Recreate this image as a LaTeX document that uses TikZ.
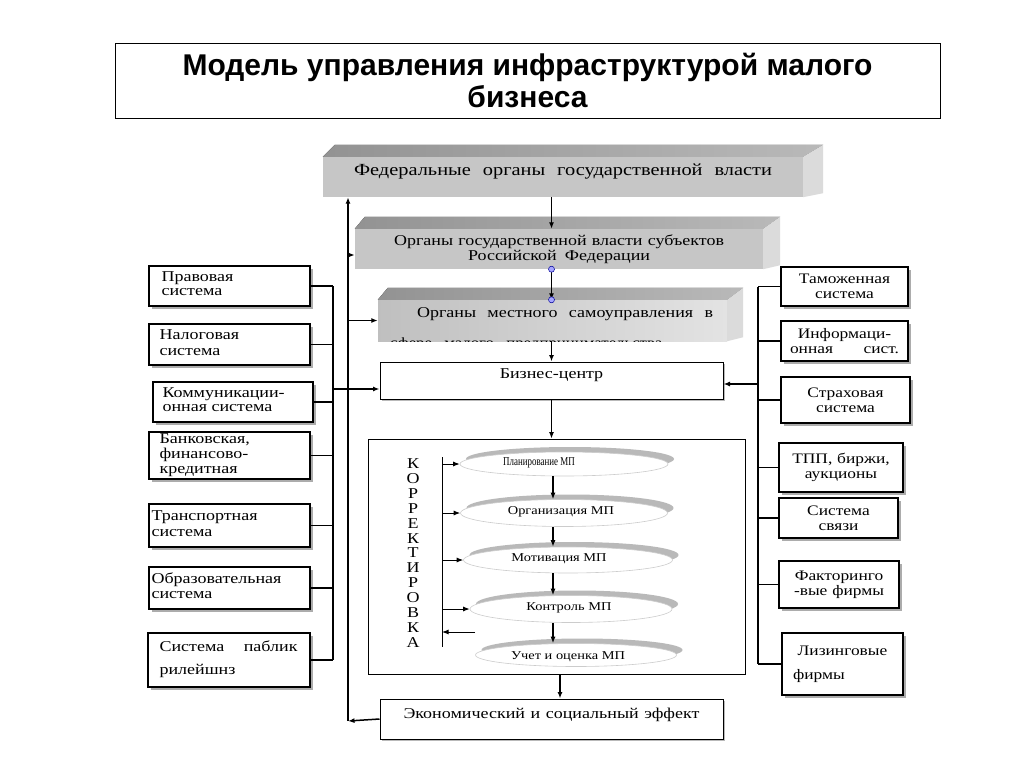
\documentclass[tikz,border=0pt]{standalone}
\usepackage{fontspec}
\usepackage{graphicx}
\setmainfont{Liberation Serif}[FakeStretch=1.2]
\newfontfamily\titlefont{Liberation Sans}
\newfontfamily\plainserif{Liberation Serif}
\newcommand{\lefttxt}[2][16]{\scalebox{1.2}[1]{\plainserif\fontsize{15}{#1}\selectfont\begin{tabular}{@{}l@{}}#2\end{tabular}}}
\usetikzlibrary{arrows.meta,shadows,calc,shapes.geometric}
\tikzset{
  arr/.style={-{Latex[length=6.5pt,width=5pt]}, line width=1.5pt},
  sbox/.style={draw, line width=1.3pt, fill=white, drop shadow={shadow xshift=3pt, shadow yshift=-3pt, fill=gray!65, opacity=1}, inner ysep=0pt, font=\fontsize{14.5}{15}\selectfont},
  lbox/.style={sbox, inner sep=0pt},
  ltext/.style={anchor=west, align=left, inner sep=0pt, font=\fontsize{15}{16}\selectfont},
  rbox/.style={sbox, align=center},
  wbox/.style={draw, line width=1pt, fill=white, drop shadow={shadow xshift=2pt, shadow yshift=-2pt, fill=gray!55, opacity=1}, inner sep=0pt, font=\fontsize{15}{15}\selectfont},
  oval/.style={ellipse, draw=gray!40, line width=0.6pt, fill=white, inner sep=0pt, drop shadow={shadow xshift=6pt, shadow yshift=5pt, fill=gray!55, opacity=1}},
  otext/.style={font=\fontsize{12}{12}\selectfont, inner sep=0pt},
  front/.style={inner sep=0pt, draw=none},
  handle/.style={circle, draw=blue!60!black, fill=blue!35!white, minimum size=6pt, inner sep=0pt, line width=0.5pt},
  bus/.style={line width=1.2pt},
}
\begin{document}
\begin{tikzpicture}[x=1pt,y=-1pt]
\fill[white] (0,0) rectangle (1024,768);
\useasboundingbox (0,0) rectangle (1024,768);

% title
\node[draw, line width=0.8pt, minimum width=825pt, minimum height=75pt, inner sep=0pt, align=center,
  font=\titlefont\bfseries\fontsize{30}{32}\selectfont] (title) at (527.5,80.5)
  {Модель управления инфраструктурой малого\\бизнеса};

% federal 3D box
\node[front, fill=gray!45, minimum width=480pt, minimum height=40pt, text height=18pt, text depth=22pt,
  font=\fontsize{17}{17}\selectfont] (fed) at (563,177)
  {\makebox[418pt][s]{Федеральные органы государственной власти}};
\fill[left color=gray!85, right color=gray!55] (fed.north west) -- ++(12,-12) -- ($(fed.north east)+(20,-12)$) -- (fed.north east) -- cycle;
\fill[gray!28] (fed.north east) -- ++(20,-12) -- ($(fed.south east)+(20,-4)$) -- (fed.south east) -- cycle;

% regional 3D box
\node[front, fill=gray!45, minimum width=408pt, minimum height=40pt, align=center,
  font=\fontsize{15}{15}\selectfont] (box2) at (559,249)
  {\makebox[330pt][s]{Органы государственной власти субъектов}\\\makebox[182pt][s]{Российской Федерации}};
\fill[left color=gray!85, right color=gray!55] (box2.north west) -- ++(10,-12) -- ($(box2.north east)+(17,-12)$) -- (box2.north east) -- cycle;
\fill[gray!28] (box2.north east) -- ++(17,-12) -- ($(box2.south east)+(17,-4)$) -- (box2.south east) -- cycle;

% local 3D box
\node[front, left color=gray!50, right color=gray!22, minimum width=349pt, minimum height=41pt,
  text height=17pt, text depth=24pt, font=\fontsize{15}{15}\selectfont] (box3) at (552.5,320.5)
  {\hspace*{25pt}\makebox[296pt][s]{Органы местного самоуправления в}};
\fill[left color=gray!85, right color=gray!55] (box3.north west) -- ++(10,-12) -- ($(box3.north east)+(16,-12)$) -- (box3.north east) -- cycle;
\fill[gray!28] (box3.north east) -- ++(16,-12) -- ($(box3.south east)+(16,-4)$) -- (box3.south east) -- cycle;
\begin{scope}
\clip (box3.south west) rectangle (box3.north east);
\node[anchor=base west, inner sep=0pt, font=\fontsize{14}{14}\selectfont] (box3b) at (390,347)
  {\makebox[272pt][s]{сфере малого предпринимательства}};
\end{scope}

% business centre and result
\node[wbox, minimum width=343pt, minimum height=37pt, text height=16pt, text depth=21pt] (bc) at (551.5,380.5) {Бизнес-центр};
\node[wbox, minimum width=343pt, minimum height=40pt, text height=19pt, text depth=21pt] (econ) at (551.5,719)
  {\makebox[296pt][s]{Экономический и социальный эффект}};

% container
\node[draw, line width=0.8pt, minimum width=377pt, minimum height=235pt, inner sep=0pt] (cont) at (556.5,556.5) {};

% left boxes
\node[lbox, minimum width=161pt, minimum height=40pt] (lb1) at (229.5,286) {};
\node[lbox, minimum width=161pt, minimum height=41pt] (lb2) at (229.5,344.5) {};
\node[lbox, minimum width=160pt, minimum height=40pt] (lb3) at (233,402) {};
\node[lbox, minimum width=161pt, minimum height=47pt] (lb4) at (229.5,455.5) {};
\node[lbox, minimum width=161pt, minimum height=43pt] (lb5) at (229.5,525.5) {};
\node[lbox, minimum width=161pt, minimum height=42pt] (lb6) at (229.5,588) {};
\node[lbox, minimum width=162pt, minimum height=54pt] (lb7) at (229,660) {};
\node[ltext] (lt1) at ([xshift=13pt]lb1.west) {\lefttxt[14]{Правовая\\система}};
\node[ltext] (lt2) at ([xshift=11pt]lb2.west) {\lefttxt{Налоговая\\система}};
\node[ltext] (lt3) at ([xshift=10pt]lb3.west) {\lefttxt[14]{Коммуникации-\\онная система}};
\node[ltext] (lt4) at ([xshift=11pt]lb4.west) {\lefttxt[14.5]{Банковская,\\финансово-\\кредитная}};
\node[ltext] (lt5) at ([xshift=3pt]lb5.west) {\lefttxt{Транспортная\\система}};
\node[ltext] (lt6) at ([xshift=3pt]lb6.west) {\lefttxt[15]{Образовательная\\система}};
\node[ltext] (lt7) at ([xshift=12pt]lb7.west) {\makebox[138pt][s]{Система паблик}\\[8pt]\lefttxt{рилейшнз}};

% right boxes
\node[rbox, inner xsep=7pt, minimum width=127pt, minimum height=39pt, text width=113pt] (rb1) at (844.5,286.5) {Таможенная\\система};
\node[rbox, inner xsep=9pt, minimum width=127pt, minimum height=40pt, text width=109pt] (rb2) at (844.5,341) {Информаци-\\онная\hfill сист.};
\node[rbox, inner xsep=7pt, minimum width=129pt, minimum height=46pt, text width=115pt] (rb3) at (845.5,400) {Страховая\\система};
\node[rbox, inner xsep=7pt, minimum width=124pt, minimum height=49pt, text width=110pt] (rb4) at (841,467.5) {ТПП, биржи,\\аукционы};
\node[rbox, inner xsep=7pt, minimum width=119pt, minimum height=40pt, text width=105pt] (rb5) at (838.5,518) {Система\\связи};
\node[rbox, inner xsep=7pt, minimum width=120pt, minimum height=47pt, text width=106pt] (rb6) at (839,584.5) {Факторинго\\-вые фирмы};
\node[rbox, inner xsep=11pt, minimum width=121pt, minimum height=62pt, text width=99pt] (rb7) at (842.5,664) {Лизинговые\\[9pt]фирмы\hfill\null};

% buses
\coordinate (lbusx) at (333,0);
\coordinate (rbusx) at (758,0);
\coordinate (mlx) at (348,721);
\draw[bus] (lb1.east -| lbusx) -- (lb7.east -| lbusx);
\foreach \n in {lb1,lb2,lb3,lb4,lb5,lb6,lb7} \draw[bus] (\n.east) -- (\n.east -| lbusx);
\draw[bus, line width=1.5pt] (rb1.west -| rbusx) -- (rb7.west -| rbusx);
\foreach \n in {rb1,rb2,rb3,rb4,rb5,rb6,rb7} \draw[bus] (\n.west -| rbusx) -- (\n.west);

% main feedback line
\draw[arr] (econ.west) -- (mlx);
\draw[arr] (mlx) -- (mlx |- fed.south);
\coordinate (b2in) at ([yshift=-6pt]box2.west);
\draw[arr] (b2in -| mlx) -- (b2in);
\draw[arr] (box3.west -| mlx) -- (box3.west);
\coordinate (bcl) at ([yshift=-8.5pt]bc.west);
\draw[arr] (bcl -| lbusx) -- (bcl);
\coordinate (bcr) at ([yshift=-3.5pt]bc.east);
\draw[arr] (bcr -| rbusx) -- (bcr);

% central column
\draw[arr] (fed.south -| bc.south) -- (box2.north -| bc.south);
\draw[arr] (box2.south -| bc.south) -- (box3.north -| bc.south);
\draw[arr] (box3.south -| bc.south) -- (bc.north);
\draw[arr] (bc.south) -- (bc.south |- cont.north);
\coordinate (ccol) at (560,0);
\draw[arr] (cont.south -| ccol) -- (econ.north -| ccol);
\node[handle] (h1) at (box2.south -| bc.south) {};
\node[handle] (h2) at (box3.north -| bc.south) {};

% ellipses
\node[oval, minimum width=208pt, minimum height=24pt] (e1) at (564,464) {};
\node[oval, minimum width=207pt, minimum height=27pt] (e2) at (564,513) {};
\node[oval, minimum width=209pt, minimum height=26pt] (e3) at (568,560) {};
\node[oval, minimum width=202pt, minimum height=27pt] (e4) at (571,609) {};
\node[oval, minimum width=201pt, minimum height=23pt] (e5) at (576,655) {};
\node[otext] (t1) at (539,463) {\scalebox{0.62}[1]{Планирование МП}};
\node[otext] (t2) at (561,512) {Организация МП};
\node[otext] (t3) at (559,559) {Мотивация МП};
\node[otext] (t4) at (569,608) {Контроль МП};
\node[otext] (t5) at (568,657) {Учет и оценка МП};
\coordinate (ecol) at (553,0);
\draw[arr] (e1.south -| ecol) -- (e2.north -| ecol);
\draw[arr] (e2.south -| ecol) -- (e3.north -| ecol);
\draw[arr] (e3.south -| ecol) -- (e4.north -| ecol);
\draw[arr] (e4.south -| ecol) -- (e5.north -| ecol);

% correction
\node[inner sep=0pt, align=center, font=\fontsize{15}{14.9}\selectfont] (kor) at (413,553)
  {К\\О\\Р\\Р\\Е\\К\\Т\\И\\Р\\О\\В\\К\\А};
\coordinate (kx) at (442,0);
\coordinate (ktop) at (442,457);
\coordinate (kbot) at (442,647);
\draw[line width=0.9pt] (ktop) -- (kbot);
\foreach \n in {e1,e2,e3,e4} \draw[arr, line width=1pt] (\n.west -| kx) -- (\n.west);
\coordinate (kret) at (475,632);
\draw[arr, line width=1pt] (kret) -- (kret -| kx);
\end{tikzpicture}
\end{document}
